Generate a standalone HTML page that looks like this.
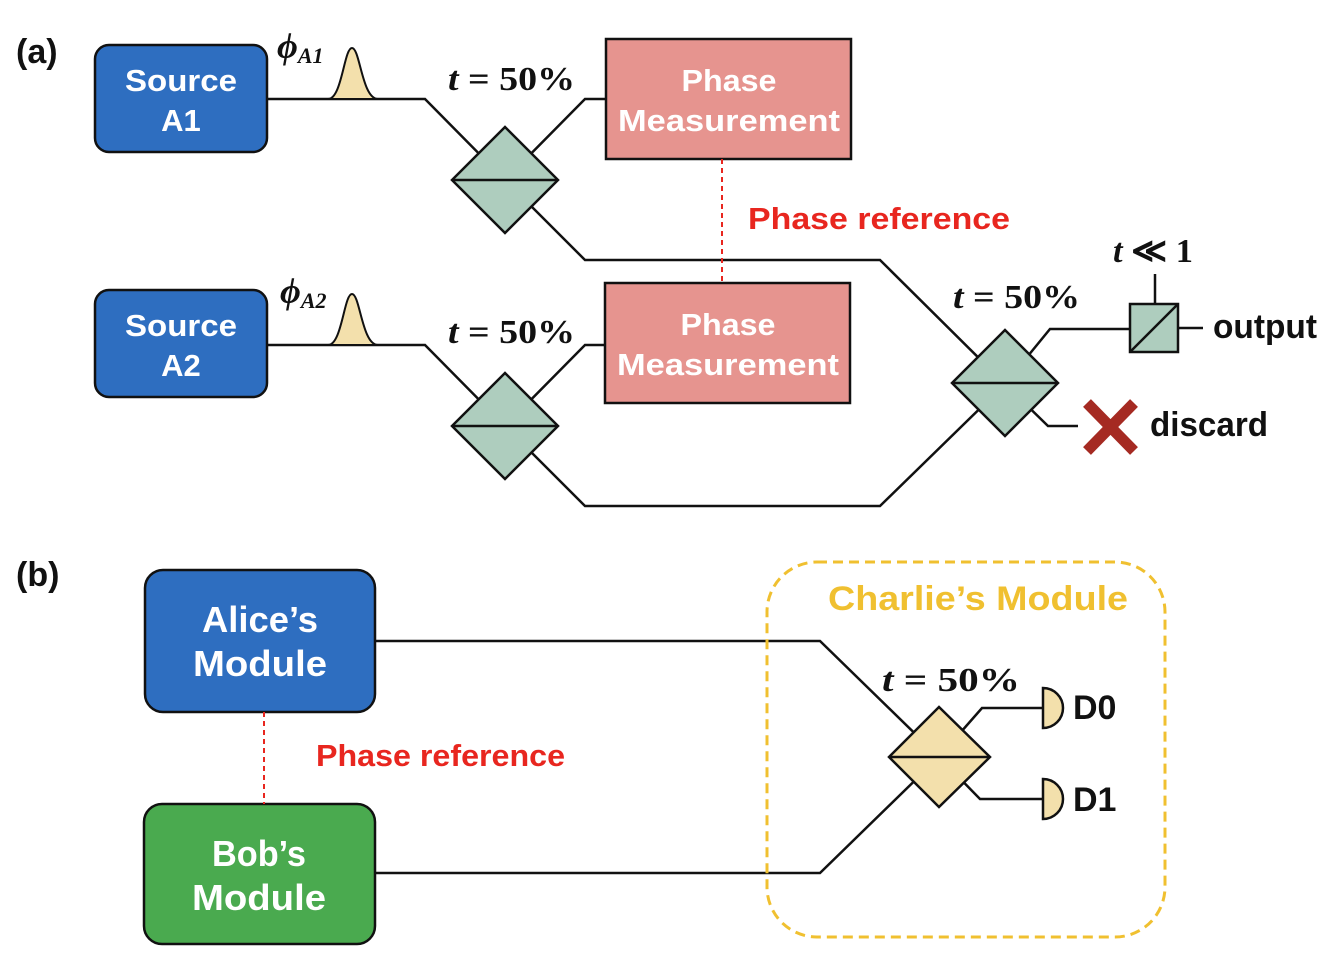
<!DOCTYPE html>
<html><head><meta charset="utf-8"><style>
html,body{margin:0;padding:0;background:#fff}
svg{display:block}
.s{font-family:"Liberation Sans",sans-serif;font-weight:bold}
.m{font-family:"Liberation Serif",serif;font-weight:bold}
</style></head><body>
<svg width="1332" height="972" viewBox="0 0 1332 972" xmlns="http://www.w3.org/2000/svg">
<g fill="none" stroke="#111" stroke-width="2.5">
<polyline points="267,99 425,99 505,180 585,99 606,99"/>
<polyline points="505,180 585,260 880,260 1005,384 1050,329 1130,329"/>
<polyline points="267,345 425,345 505,426 585,345 605,345"/>
<polyline points="505,426 585,506 880,506 1005,384 1048,426 1078,426"/>
<line x1="1178" y1="328" x2="1203" y2="328"/>
<line x1="1155" y1="274" x2="1155" y2="304"/>
<polyline points="375,641 820,641 939,757 982,708 1043,708"/>
<polyline points="375,873 820,873 939,757 980,799 1043,799"/>
</g>
<path d="M328,99 C342,99 344,48 352,48 C360,48 362,99 378,99 Z" fill="#f3e0ac" stroke="#111" stroke-width="2"/>
<path d="M328,345 C342,345 344,294 352,294 C360,294 362,345 378,345 Z" fill="#f3e0ac" stroke="#111" stroke-width="2"/>
<g fill="#aecdbe" stroke="#111" stroke-width="2.5">
<polygon points="452,180 505,127 558,180 505,233"/>
<polygon points="452,426 505,373 558,426 505,479"/>
<polygon points="952,383 1005,330 1058,383 1005,436"/>
<rect x="1130" y="304" width="48" height="48"/>
</g>
<g stroke="#111" stroke-width="2.5">
<line x1="452" y1="180" x2="558" y2="180"/>
<line x1="452" y1="426" x2="558" y2="426"/>
<line x1="952" y1="383" x2="1058" y2="383"/>
<line x1="1130" y1="352" x2="1178" y2="304"/>
</g>
<polygon points="889,757 939,707 990,757 939,807" fill="#f3e0ac" stroke="#111" stroke-width="2.5"/>
<line x1="889" y1="757" x2="990" y2="757" stroke="#111" stroke-width="2.5"/>
<path d="M1043,688 A20,20 0 0 1 1043,728 Z" fill="#f3e0ac" stroke="#111" stroke-width="2.5"/>
<path d="M1043,779 A20,20 0 0 1 1043,819 Z" fill="#f3e0ac" stroke="#111" stroke-width="2.5"/>
<g stroke="#a52a22" stroke-width="11">
<line x1="1087" y1="403" x2="1134" y2="451"/>
<line x1="1134" y1="403" x2="1087" y2="451"/>
</g>
<rect x="95" y="45" width="172" height="107" rx="14" fill="#2e6ec0" stroke="#111" stroke-width="2.5"/>
<rect x="95" y="290" width="172" height="107" rx="14" fill="#2e6ec0" stroke="#111" stroke-width="2.5"/>
<rect x="606" y="39" width="245" height="120" fill="#e6948f" stroke="#111" stroke-width="2.5"/>
<rect x="605" y="283" width="245" height="120" fill="#e6948f" stroke="#111" stroke-width="2.5"/>
<rect x="145" y="570" width="230" height="142" rx="18" fill="#2e6ec0" stroke="#111" stroke-width="2.5"/>
<rect x="144" y="804" width="231" height="140" rx="18" fill="#4aaa4f" stroke="#111" stroke-width="2.5"/>
<rect x="767" y="562" width="398" height="375" rx="50" fill="none" stroke="#f0c030" stroke-width="3" stroke-dasharray="10,6"/>
<line x1="722" y1="159" x2="722" y2="283" stroke="#e8261f" stroke-width="2" stroke-dasharray="5,4"/>
<line x1="264" y1="712" x2="264" y2="804" stroke="#e8261f" stroke-width="2" stroke-dasharray="5,4"/>
<g class="s" fill="#fff" font-size="31" text-anchor="middle">
<text x="181" y="91" textLength="112" lengthAdjust="spacingAndGlyphs">Source</text><text x="181" y="131">A1</text>
<text x="181" y="336" textLength="112" lengthAdjust="spacingAndGlyphs">Source</text><text x="181" y="376">A2</text>
<text x="729" y="91" textLength="95" lengthAdjust="spacingAndGlyphs">Phase</text><text x="729" y="131" textLength="222" lengthAdjust="spacingAndGlyphs">Measurement</text>
<text x="728" y="335" textLength="95" lengthAdjust="spacingAndGlyphs">Phase</text><text x="728" y="375" textLength="222" lengthAdjust="spacingAndGlyphs">Measurement</text>
<text x="260" y="632" font-size="36" textLength="116" lengthAdjust="spacingAndGlyphs">Alice’s</text><text x="260" y="676" font-size="36" textLength="134" lengthAdjust="spacingAndGlyphs">Module</text>
<text x="259" y="866" font-size="36" textLength="94" lengthAdjust="spacingAndGlyphs">Bob’s</text><text x="259" y="910" font-size="36" textLength="134" lengthAdjust="spacingAndGlyphs">Module</text>
</g>
<g class="s" fill="#111" font-size="34">
<text x="16" y="63">(a)</text>
<text x="16" y="586">(b)</text>
<text x="1213" y="338" textLength="104" lengthAdjust="spacingAndGlyphs">output</text>
<text x="1150" y="436" textLength="118" lengthAdjust="spacingAndGlyphs">discard</text>
<text x="1073" y="719">D0</text>
<text x="1073" y="811">D1</text>
</g>
<g class="s" fill="#e8261f" font-size="31">
<text x="748" y="229" textLength="262" lengthAdjust="spacingAndGlyphs">Phase reference</text>
<text x="316" y="766" textLength="249" lengthAdjust="spacingAndGlyphs">Phase reference</text>
</g>
<text class="s" x="828" y="610" fill="#f0c030" font-size="34" textLength="300" lengthAdjust="spacingAndGlyphs">Charlie’s Module</text>
<g class="m" fill="#111" font-size="34">
<text x="448" y="90" textLength="127" lengthAdjust="spacingAndGlyphs"><tspan font-style="italic">t</tspan> = 50%</text>
<text x="448" y="343" textLength="127" lengthAdjust="spacingAndGlyphs"><tspan font-style="italic">t</tspan> = 50%</text>
<text x="953" y="308" textLength="127" lengthAdjust="spacingAndGlyphs"><tspan font-style="italic">t</tspan> = 50%</text>
<text x="882" y="691" textLength="138" lengthAdjust="spacingAndGlyphs"><tspan font-style="italic">t</tspan> = 50%</text>
<text x="1113" y="262" textLength="80" lengthAdjust="spacingAndGlyphs"><tspan font-style="italic">t</tspan> ≪ 1</text>
<text x="277" y="58" font-style="italic" font-size="36">ϕ<tspan font-size="22" dy="5">A1</tspan></text>
<text x="280" y="303" font-style="italic" font-size="36">ϕ<tspan font-size="22" dy="5">A2</tspan></text>
</g>
</svg>
</body></html>
